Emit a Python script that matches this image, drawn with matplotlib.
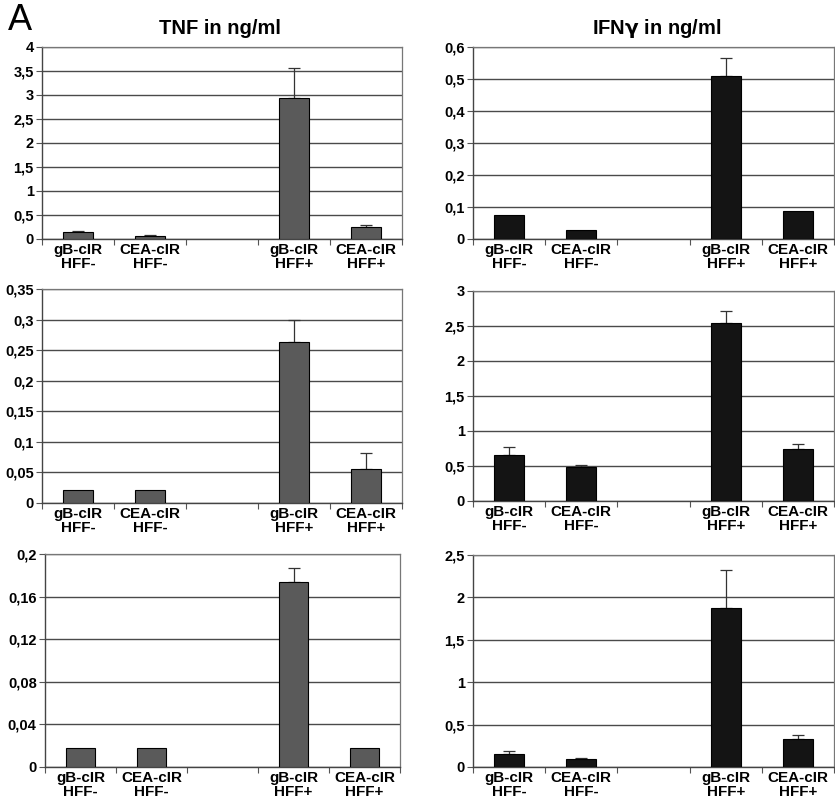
import numpy as np
import matplotlib
matplotlib.use('Agg')
import matplotlib.pyplot as plt
from matplotlib.ticker import FuncFormatter

plt.rcParams['font.family'] = ['Liberation Sans', 'DejaVu Sans']

categories = ['gB-cIR\nHFF-', 'CEA-cIR\nHFF-', '', 'gB-cIR\nHFF+', 'CEA-cIR\nHFF+']

# TNF (left column), one row per experiment
tnf_1 = [0.14, 0.07, np.nan, 2.93, 0.24]
tnf_1_err = [0.02, 0.02, np.nan, 0.63, 0.06]
tnf_2 = [0.021, 0.021, np.nan, 0.264, 0.056]
tnf_2_err = [0, 0, np.nan, 0.035, 0.026]
tnf_3 = [0.018, 0.018, np.nan, 0.174, 0.018]
tnf_3_err = [0, 0, np.nan, 0.013, 0]

# IFNg (right column)
ifn_1 = [0.076, 0.029, np.nan, 0.51, 0.089]
ifn_1_err = [0, 0, np.nan, 0.056, 0]
ifn_2 = [0.66, 0.48, np.nan, 2.54, 0.75]
ifn_2_err = [0.11, 0.03, np.nan, 0.18, 0.07]
ifn_3 = [0.157, 0.098, np.nan, 1.87, 0.335]
ifn_3_err = [0.03, 0.012, np.nan, 0.45, 0.045]

tnf_ylims = [(4, 0.5), (0.35, 0.05), (0.2, 0.04)]
ifn_ylims = [(0.6, 0.1), (3, 0.5), (2.5, 0.5)]

W, H = 835, 801
fig = plt.figure(figsize=(W/100, H/100), dpi=100)

def box(x0, y0, x1, y1):
    return [x0/W, 1 - y1/H, (x1-x0)/W, (y1-y0)/H]

def fmt(v, pos):
    s = ('%.2f' % v).rstrip('0').rstrip('.')
    return s.replace('.', ',')

def bar_panel(rect, vals, errs, ylim, color):
    ax = fig.add_axes(rect)
    x = np.arange(len(categories))
    vals = np.array(vals, dtype=float)
    errs = np.array(errs, dtype=float)
    ax.bar(x, vals, width=0.41, color=color, edgecolor='black', linewidth=0.8, zorder=3)
    m = np.nan_to_num(errs) > 0
    ax.errorbar(x[m], vals[m], yerr=[np.zeros(m.sum()), errs[m]], fmt='none',
                ecolor='#333333', elinewidth=0.9, capsize=4, capthick=0.9, zorder=2)
    top, step = ylim
    ax.set_ylim(0, top)
    ax.set_xlim(-0.5, len(categories) - 0.5)
    ax.set_yticks(np.arange(0, top + step/2, step))
    ax.yaxis.set_major_formatter(FuncFormatter(fmt))
    ax.grid(axis='y', color='#4a4a4a', linewidth=1.0, zorder=0)
    ax.set_axisbelow(True)
    ax.set_xticks(x)
    ax.set_xticklabels(categories, fontsize=11, fontweight='bold', linespacing=1.0)
    ax.set_xticks(np.arange(-0.5, len(categories)), minor=True)
    ax.tick_params(axis='x', which='major', length=0, pad=3)
    ax.tick_params(axis='x', which='minor', length=4, width=0.8, color='#555555')
    ax.tick_params(axis='y', length=4, width=0.8, color='#555555', labelsize=10.5, pad=2)
    for lab in ax.get_yticklabels():
        lab.set_fontweight('bold')
    for s in ['top', 'right']:
        ax.spines[s].set_color('#777777')
        ax.spines[s].set_linewidth(0.9)
    for s in ['left', 'bottom']:
        ax.spines[s].set_color('#444444')
        ax.spines[s].set_linewidth(1.0)
    return ax

gray = '#5a5a5a'
black = '#141414'

bar_panel(box(42, 47, 402, 239), tnf_1, tnf_1_err, tnf_ylims[0], gray)
bar_panel(box(473, 47, 834, 239), ifn_1, ifn_1_err, ifn_ylims[0], black)
bar_panel(box(42, 289, 402, 503), tnf_2, tnf_2_err, tnf_ylims[1], gray)
bar_panel(box(473, 291, 834, 501), ifn_2, ifn_2_err, ifn_ylims[1], black)
bar_panel(box(45, 554, 400, 767), tnf_3, tnf_3_err, tnf_ylims[2], gray)
bar_panel(box(473, 555, 834, 767), ifn_3, ifn_3_err, ifn_ylims[2], black)

fig.text(220/W, 1 - 29/H, 'TNF in ng/ml', ha='center', va='center', fontsize=14.5, fontweight='bold')
fig.text(657/W, 1 - 29/H, r'IFN$\mathbf{\gamma}$ in ng/ml', ha='center', va='center', fontsize=14.5, fontweight='bold')
fig.text(8/W, 1 - 21/H, 'A', ha='left', va='center', fontsize=26)

fig.savefig('out.png', dpi=100)
